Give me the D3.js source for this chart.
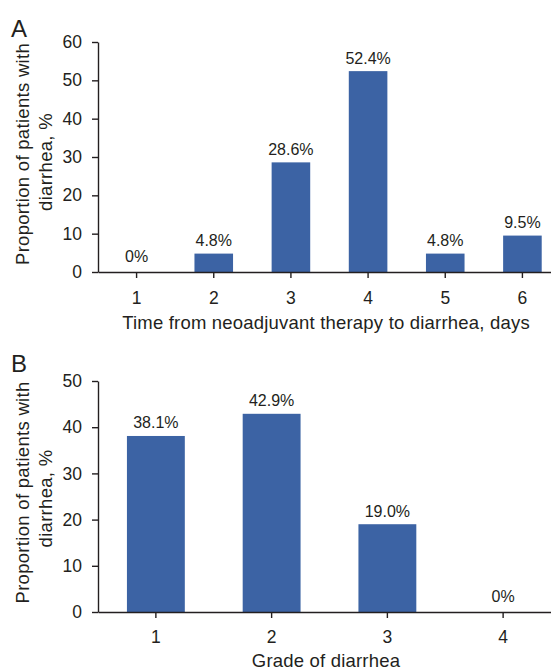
<!DOCTYPE html>
<html><head><meta charset="utf-8">
<script src="https://cdn.jsdelivr.net/npm/d3@7"></script>
<style>
body{margin:0;background:#fff;}
svg{display:block;font-family:"Liberation Sans",Arial,Helvetica,sans-serif;}
</style></head>
<body>
<svg id="c" width="551" height="670"></svg>
<script>
const catsA = ["1","2","3","4","5","6"];
const valsA = [0, 4.8, 28.6, 52.4, 4.8, 9.5];
const labelsA = ["0%","4.8%","28.6%","52.4%","4.8%","9.5%"];
const ticksA = [0,10,20,30,40,50,60];

const catsB = ["1","2","3","4"];
const valsB = [38.1, 42.9, 19.0, 0];
const labelsB = ["38.1%","42.9%","19.0%","0%"];
const ticksB = [0,10,20,30,40,50];

const ink = "#231f20";
const barColor = "#3c63a4";
const svg = d3.select("#c");

function panel(o){
  const g = svg.append("g");
  const x = d3.scaleBand().domain(o.cats).range([98, 561]).paddingInner(0.5).paddingOuter(0.25);
  const y = d3.scaleLinear().domain([0, o.max]).range([o.y0, o.y1]);

  g.selectAll("rect.bar").data(o.vals).join("rect")
    .attr("x", (d,i)=>x(o.cats[i]))
    .attr("width", x.bandwidth())
    .attr("y", d=>y(d))
    .attr("height", d=>y(0)-y(d))
    .attr("fill", barColor);

  g.selectAll("text.val").data(o.vals).join("text")
    .attr("x", (d,i)=>x(o.cats[i]) + x.bandwidth()/2)
    .attr("y", d=>y(d) - (d===0 ? 10 : 7.5))
    .attr("text-anchor","middle")
    .attr("font-size", 16)
    .attr("fill", ink)
    .text((d,i)=>o.labels[i]);

  const ya = g.append("g").attr("transform","translate(98,0)")
    .call(d3.axisLeft(y).tickValues(o.ticks).tickSize(6).tickSizeOuter(0).tickPadding(10));
  const xa = g.append("g").attr("transform",`translate(0,${o.y0})`)
    .call(d3.axisBottom(x).tickSize(6).tickSizeOuter(0));
  [ya, xa].forEach(a=>{
    a.selectAll("path,line").attr("stroke", ink).attr("stroke-width", 1.4);
    a.selectAll("text").attr("font-size", 17.5).attr("fill", ink).attr("font-family", "Liberation Sans, Arial, sans-serif");
  });
  xa.selectAll("text").attr("y", o.xTickBase).attr("dy", 0);

  const t1 = g.append("text").attr("transform",`translate(29,${o.lab1}) rotate(-90)`)
    .attr("text-anchor","middle").attr("font-size",18.5).attr("letter-spacing",0.3).attr("fill",ink)
    .text("Proportion of patients with");
  const t2 = g.append("text").attr("transform",`translate(51.5,${o.lab2}) rotate(-90)`)
    .attr("text-anchor","middle").attr("font-size",18.5).attr("letter-spacing",0.3).attr("fill",ink)
    .text("diarrhea, %");

  g.append("text").attr("x", 326).attr("y", o.titleY)
    .attr("text-anchor","middle").attr("font-size",18.5).attr("letter-spacing",0.2).attr("fill",ink).text(o.title);

  g.append("text").attr("x", 11).attr("y", o.letterY)
    .attr("font-size", 24).attr("fill", ink).text(o.letter);
}

panel({cats:catsA, vals:valsA, labels:labelsA, ticks:ticksA, max:60, y0:272, y1:42, xTickBase:31.5, lab1:154, lab2:162,
  title:"Time from neoadjuvant therapy to diarrhea, days", titleY:328.5, letter:"A", letterY:37});
panel({cats:catsB, vals:valsB, labels:labelsB, ticks:ticksB, max:50, y0:612, y1:381, xTickBase:31, lab1:492.5, lab2:498.5,
  title:"Grade of diarrhea", titleY:667, letter:"B", letterY:372});
</script>
</body></html>
